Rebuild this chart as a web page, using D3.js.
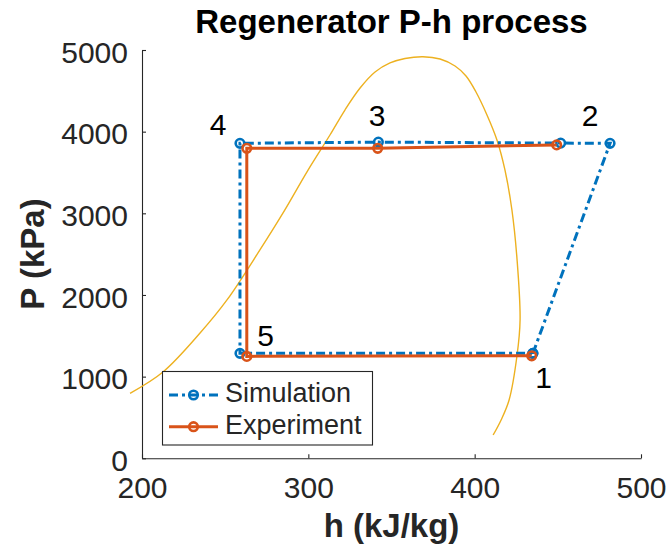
<!DOCTYPE html>
<html>
<head>
<meta charset="utf-8">
<script src="https://cdn.jsdelivr.net/npm/d3@7"></script>
<style>
  html, body { margin: 0; padding: 0; background: #fff; }
  svg { display: block; font-family: "Liberation Sans", Arial, Helvetica, sans-serif; }
</style>
</head>
<body>
<svg id="chart" width="672" height="551"></svg>
<script>
// Cycle states, simulated: 1 -> 2' -> 2 -> 3 -> 4 -> 5 -> 1
const simH = [435, 481.4, 451.7, 342.1, 258.9, 258.9, 435];
const simP = [1285, 3857, 3860, 3872, 3857, 1285, 1285];

// Measured states: 2 -> 3 -> 4 -> 5 -> 1
const expH = [449.3, 341.7, 263.0, 263.0, 434.3];
const expP = [3838, 3796, 3796, 1248, 1255];

// Saturation dome
const domeH = [192.8, 212.6, 234.9, 251.1, 270.9, 285.9, 299.2, 313.0, 322.0, 331.1, 340.1, 349.1,
               358.1, 368.9, 379.2, 388.2, 394.8, 400.8, 407.4, 413.4, 418.2, 422.4, 425.5, 427.3,
               425.5, 420.7, 415.9, 411.1];
const domeP = [796, 1057, 1534, 1939, 2552, 3042, 3508, 3959, 4265, 4534, 4730, 4841,
               4896, 4918, 4890, 4804, 4682, 4486, 4205, 3898, 3531, 3041, 2429, 1694,
               1265, 714, 470, 285];

// State number annotations
const stateLabels = ["1", "2", "3", "4", "5"];
const stateLabelH = [441.5, 469.4, 341.3, 245.7, 274.3];
const stateLabelP = [995, 4195, 4195, 4095, 1510];

const xTicks = [200, 300, 400, 500];
const yTicks = [0, 1000, 2000, 3000, 4000, 5000];

const seriesNames = ["Simulation", "Experiment"];

const BLUE = "#0072BD", ORANGE = "#D95319", YELLOW = "#EDB120", AX = "#262626";

const svg = d3.select("#chart");

const x = d3.scaleLinear().domain([200, 500]).range([142, 641]);
const y = d3.scaleLinear().domain([0, 5000]).range([458.3, 50]);

// Axes (box off, ticks pointing inward)
const xAxis = svg.append("g")
  .attr("transform", `translate(0,${y(0)})`)
  .call(d3.axisBottom(x).tickValues(xTicks).tickFormat(d3.format("d"))
    .tickSize(-4).tickSizeOuter(0).tickPadding(18));
const yAxis = svg.append("g")
  .attr("transform", `translate(${x(200)},0)`)
  .call(d3.axisLeft(y).tickValues(yTicks).tickFormat(d3.format("d"))
    .tickSize(-4).tickSizeOuter(0).tickPadding(14));

[xAxis, yAxis].forEach(g => {
  g.select(".domain").attr("stroke", AX).attr("stroke-width", 1.1);
  g.selectAll(".tick line").attr("stroke", AX).attr("stroke-width", 1.1);
  g.selectAll(".tick text").attr("fill", AX).style("font-size", "30px");
  g.attr("font-family", null);
});
yAxis.selectAll(".tick text").attr("dy", "0.41em");
xAxis.selectAll(".tick text").attr("dy", "0.71em");

const line = d3.line().x(d => x(d[0])).y(d => y(d[1]));

// Saturation dome
const domePts = domeH.map((h, i) => [h, domeP[i]]);
svg.append("path")
  .attr("fill", "none")
  .attr("stroke", YELLOW)
  .attr("stroke-width", 1.4)
  .attr("d", d3.line().x(d => x(d[0])).y(d => y(d[1])).curve(d3.curveCatmullRom.alpha(0.5))(domePts));

function drawSeries(hs, ps, color, dash) {
  const pts = hs.map((h, i) => [h, ps[i]]);
  svg.append("path")
    .attr("fill", "none")
    .attr("stroke", color)
    .attr("stroke-width", 3)
    .attr("stroke-dasharray", dash)
    .attr("d", line(pts));
  svg.append("g").selectAll("circle")
    .data(pts)
    .join("circle")
    .attr("cx", d => x(d[0]))
    .attr("cy", d => y(d[1]))
    .attr("r", 4.3)
    .attr("fill", "none")
    .attr("stroke", color)
    .attr("stroke-width", 2.6);
}

drawSeries(simH, simP, BLUE, "9,4,3,4");
drawSeries(expH, expP, ORANGE, null);

// State numbers
svg.append("g").selectAll("text")
  .data(stateLabels)
  .join("text")
  .attr("x", (d, i) => x(stateLabelH[i]))
  .attr("y", (d, i) => y(stateLabelP[i]) + 10.7)
  .attr("text-anchor", "middle")
  .attr("fill", "#000")
  .style("font-size", "30px")
  .text(d => d);

// Title and axis labels
svg.append("text")
  .attr("x", 391.5).attr("y", 33)
  .attr("text-anchor", "middle")
  .attr("font-weight", "bold")
  .attr("fill", "#000")
  .style("font-size", "33px")
  .text("Regenerator P-h process");

svg.append("text")
  .attr("x", 391.5).attr("y", 537)
  .attr("text-anchor", "middle")
  .attr("font-weight", "bold")
  .attr("fill", AX)
  .style("font-size", "33px")
  .text("h (kJ/kg)");

svg.append("text")
  .attr("transform", `translate(44,254) rotate(-90)`)
  .attr("text-anchor", "middle")
  .attr("font-weight", "bold")
  .attr("fill", AX)
  .style("font-size", "33px")
  .text("P (kPa)");

// Legend
const legend = svg.append("g");
legend.append("rect")
  .attr("x", 162.5).attr("y", 371.5)
  .attr("width", 210).attr("height", 73.5)
  .attr("fill", "#fff")
  .attr("stroke", AX)
  .attr("stroke-width", 1.1);

const legendRows = [
  { name: seriesNames[0], color: BLUE, dash: "9,4,3,4", cy: 395 },
  { name: seriesNames[1], color: ORANGE, dash: null, cy: 426.7 }
];
legendRows.forEach(r => {
  legend.append("line")
    .attr("x1", 169).attr("x2", 218)
    .attr("y1", r.cy).attr("y2", r.cy)
    .attr("stroke", r.color)
    .attr("stroke-width", 3)
    .attr("stroke-dasharray", r.dash);
  legend.append("circle")
    .attr("cx", 193.5).attr("cy", r.cy)
    .attr("r", 4.3)
    .attr("fill", "none")
    .attr("stroke", r.color)
    .attr("stroke-width", 2.6);
  legend.append("text")
    .attr("x", 225).attr("y", r.cy + 7)
    .attr("fill", AX)
    .style("font-size", "27px")
    .text(r.name);
});
</script>
</body>
</html>
